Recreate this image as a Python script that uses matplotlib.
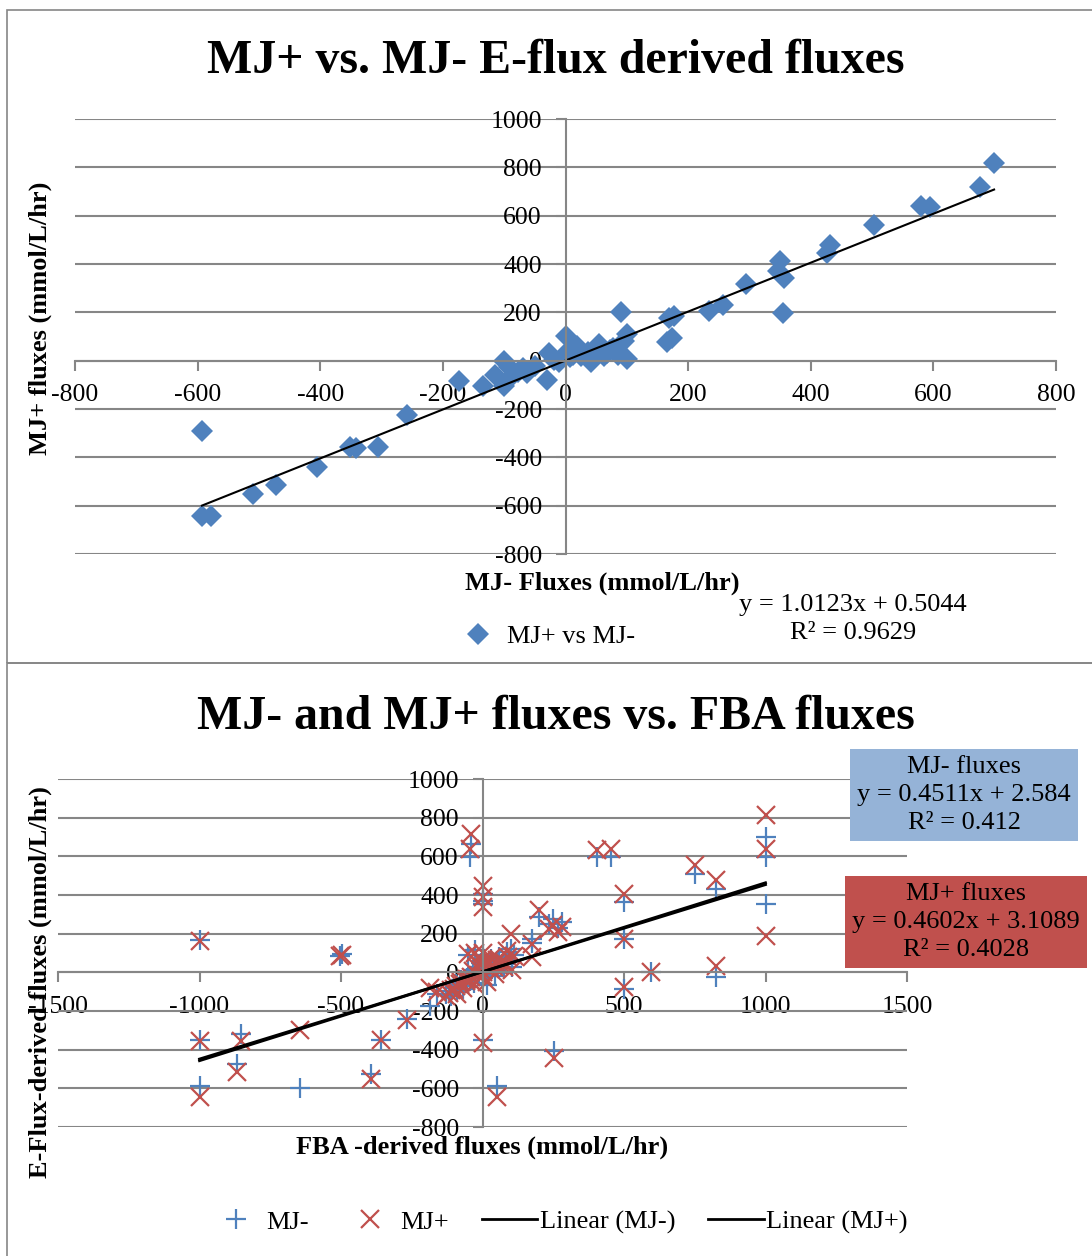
import matplotlib
matplotlib.use("Agg")
import matplotlib.pyplot as plt
from matplotlib.patches import Rectangle

plt.rcParams['font.family'] = ['Liberation Serif', 'DejaVu Serif']
plt.rcParams['axes.unicode_minus'] = False

# ---- top chart: MJ+ vs MJ- ----
mj_minus_top = [-593, -593, -578, -510, -472, -405, -351, -342, -306, -258,
                -174, -135, -115, -100, -100, -92, -85, -78, -70, -62, -50,
                -30, -27, -19, -10, -5, 0, 3, 8, 13, 19, 25, 36, 41, 50, 55,
                62, 68, 72, 78, 86, 91, 100, 100, 95,
                166, 169, 174, 177, 234, 257, 295, 346, 350, 357, 354,
                426, 431, 503, 580, 594, 676, 699]
mj_plus_top = [-293, -641, -641, -553, -514, -441, -356, -360, -356, -225,
               -84, -104, -59, 0, -104, -25, -60, -47, -30, -51, -20,
               -81, 30, 3, -5, 10, 104, 36, 15, 24, 59, 20, 36, -7, 30, 67,
               20, 32, 45, 52, 22, 200, 111, 7, 80,
               77, 175, 92, 185, 207, 230, 319, 370, 412, 341, 196,
               444, 477, 563, 640, 637, 719, 818]
slope_top, icept_top, r2_top = 1.0123, 0.5044, 0.9629

# ---- bottom chart: E-flux vs FBA ----
fba = [-1000, -1000, -1000, -853, -869, -645, -505, -495, -359, -395,
       -268, -185, -160, -40, -45, 0, 0, 0, 0, 50, 99, 175, 174, 198,
       235, 250, 268, 280, 254, 403, 453, 500, 500, 500, 596, 751, 826,
       826, 1000, 1000, 1000,
       -130, -120, -110, -100, -95, -90, -80, -75, -70, -60, -55, -50,
       -45, -40, -35, -30, -25, -20, -15, -10, -5, 0, 0, 0, 5, 10, 15,
       20, 25, 30, 35, 40, 45, 50, 55, 60, 70, 75, 80, 87, 90, 105, 110]
mj_minus = [165, -351, -588, -320, -475, -596, 86, 95, -351, -527,
            -242, -175, -112, 665, 596, 406, 354, 370, -351, -590, 120, 174,
            150, 286, 248, 274, 230, 260, -406, 596, 596, 363, 173, -86, 0,
            510, 432, -26, 700, 596, 354,
            -110, -95, -120, -80, -60, -100, -70, -40, -85, -50, -30, 90,
            -45, -20, 10, -55, 114, 20, -10, 30, 50, 0, 90, -30, 60, 20, -67,
            40, 10, 70, 50, 25, -20, 60, 35, 80, 45, 20, 60, 105, 70, 30, 90]
mj_plus = [160, -355, -645, -354, -518, -299, 86, 90, -351, -553,
           -248, -80, -100, 717, 640, 449, 389, 338, -363, -645, 199, 148,
           78, 321, 225, 243, 210, 234, -441, 631, 640, 406, 173, -78, 0,
           553, 475, 35, 812, 640, 190,
           -120, -105, -90, -85, -70, -110, -60, -50, -80, -45, -35, 97,
           -40, -25, 5, -60, 100, 25, -15, 40, 60, 0, 100, -20, 55, 30, -50,
           45, 15, 75, 40, 30, -10, 65, 40, 70, 55, 25, 50, 110, 80, 10, 85]
slope_minus, icept_minus, r2_minus = 0.4511, 2.584, 0.412
slope_plus, icept_plus, r2_plus = 0.4602, 3.1089, 0.4028

W, H = 1092, 1256
BLUE = '#4F81BD'
RED = '#C0504D'
GRID = '#868686'


def fx(px):
    return px / W


def fy(py):
    return 1 - py / H


def style_axes(ax, xt, yt):
    for s in ['top', 'right']:
        ax.spines[s].set_visible(False)
    ax.spines['left'].set_position(('data', 0))
    ax.spines['bottom'].set_position(('data', 0))
    for s in ['left', 'bottom']:
        ax.spines[s].set_color(GRID)
        ax.spines[s].set_linewidth(1.5)
    ax.set_xticks(xt)
    ax.set_yticks(yt)
    ax.set_xlim(xt[0], xt[-1])
    ax.set_ylim(yt[0], yt[-1])
    ax.tick_params(axis='both', direction='out', length=7, width=1.5,
                   color=GRID, labelsize=18.5, pad=10)
    ax.yaxis.grid(True, color=GRID, linewidth=1.5)
    ax.set_axisbelow(True)
    ax.patch.set_alpha(0)


fig = plt.figure(figsize=(W / 100, H / 100), dpi=100)

# panel borders
fig.add_artist(Rectangle((fx(7), fy(663)), 1.0, fy(10) - fy(663),
                         transform=fig.transFigure, fill=False,
                         edgecolor=GRID, linewidth=1.2))
fig.add_artist(Rectangle((fx(7), fy(1260)), 1.0, fy(663) - fy(1260),
                         transform=fig.transFigure, fill=False,
                         edgecolor=GRID, linewidth=1.2))

# ---------- top chart ----------
ax1 = fig.add_axes([fx(75), fy(554), fx(1056) - fx(75), fy(119) - fy(554)])
style_axes(ax1, list(range(-800, 801, 200)), list(range(-800, 1001, 200)))
pts = ax1.plot(mj_minus_top, mj_plus_top, 'D', color=BLUE, ms=11,
               markeredgewidth=0, label='MJ+ vs MJ-', clip_on=False)[0]
x0, x1 = min(mj_minus_top), max(mj_minus_top)
ax1.plot([x0, x1], [slope_top * x0 + icept_top, slope_top * x1 + icept_top],
         color='black', lw=1.5)

fig.text(fx(556), fy(61), 'MJ+ vs. MJ- E-flux derived fluxes', fontsize=34.5,
         fontweight='bold', ha='center', va='center')
fig.text(fx(602), fy(583), 'MJ- Fluxes (mmol/L/hr)', fontsize=19,
         fontweight='bold', ha='center', va='center')
fig.text(fx(40), fy(318), 'MJ+ fluxes (mmol/L/hr)', fontsize=19,
         fontweight='bold', ha='center', va='center', rotation=90)
fig.text(fx(853), fy(619), f'y = {slope_top}x + {icept_top}\nR² = {r2_top}',
         fontsize=19, ha='center', va='center', multialignment='center',
         linespacing=1.37)
fig.legend(handles=[pts], loc='center', bbox_to_anchor=(fx(546), fy(636)),
           frameon=False, fontsize=19, handlelength=1.6, handletextpad=0.3)

# ---------- bottom chart ----------
ax2 = fig.add_axes([fx(58), fy(1127), fx(907) - fx(58), fy(779) - fy(1127)])
style_axes(ax2, list(range(-1500, 1501, 500)), list(range(-800, 1001, 200)))
h1 = ax2.plot(fba, mj_minus, '+', color=BLUE, ms=15, mew=1.6,
              label='MJ-')[0]
h2 = ax2.plot(fba, mj_plus, 'x', color=RED, ms=13, mew=1.6,
              label='MJ+')[0]
lo, hi = min(fba), max(fba)
h3 = ax2.plot([lo, hi], [slope_minus * lo + icept_minus,
                         slope_minus * hi + icept_minus],
              color='black', lw=2, label='Linear (MJ-)')[0]
h4 = ax2.plot([lo, hi], [slope_plus * lo + icept_plus,
                         slope_plus * hi + icept_plus],
              color='black', lw=2, label='Linear (MJ+)')[0]

fig.text(fx(556), fy(717), 'MJ- and MJ+ fluxes vs. FBA fluxes', fontsize=34.5,
         fontweight='bold', ha='center', va='center')
fig.text(fx(482), fy(1147), 'FBA -derived fluxes (mmol/L/hr)', fontsize=19,
         fontweight='bold', ha='center', va='center')
fig.text(fx(40), fy(982), 'E-Flux-derived fluxes (mmol/L/hr)', fontsize=19,
         fontweight='bold', ha='center', va='center', rotation=90)
fig.text(fx(964), fy(795),
         f'MJ- fluxes\ny = {slope_minus}x + {icept_minus}\nR² = {r2_minus}',
         fontsize=19, ha='center', va='center', multialignment='center',
         linespacing=1.35,
         bbox=dict(facecolor='#95B3D7', edgecolor='none', pad=5))
fig.text(fx(966), fy(922),
         f'MJ+ fluxes\ny = {slope_plus}x + {icept_plus}\nR² = {r2_plus}',
         fontsize=19, ha='center', va='center', multialignment='center',
         linespacing=1.35,
         bbox=dict(facecolor=RED, edgecolor='none', pad=5))
fig.legend(handles=[h1, h2, h3, h4], loc='center',
           bbox_to_anchor=(fx(558), fy(1222)), ncol=4, frameon=False,
           fontsize=19, handlelength=2.1, handletextpad=0.1,
           columnspacing=1.25)

fig.savefig('out.png', dpi=100)
